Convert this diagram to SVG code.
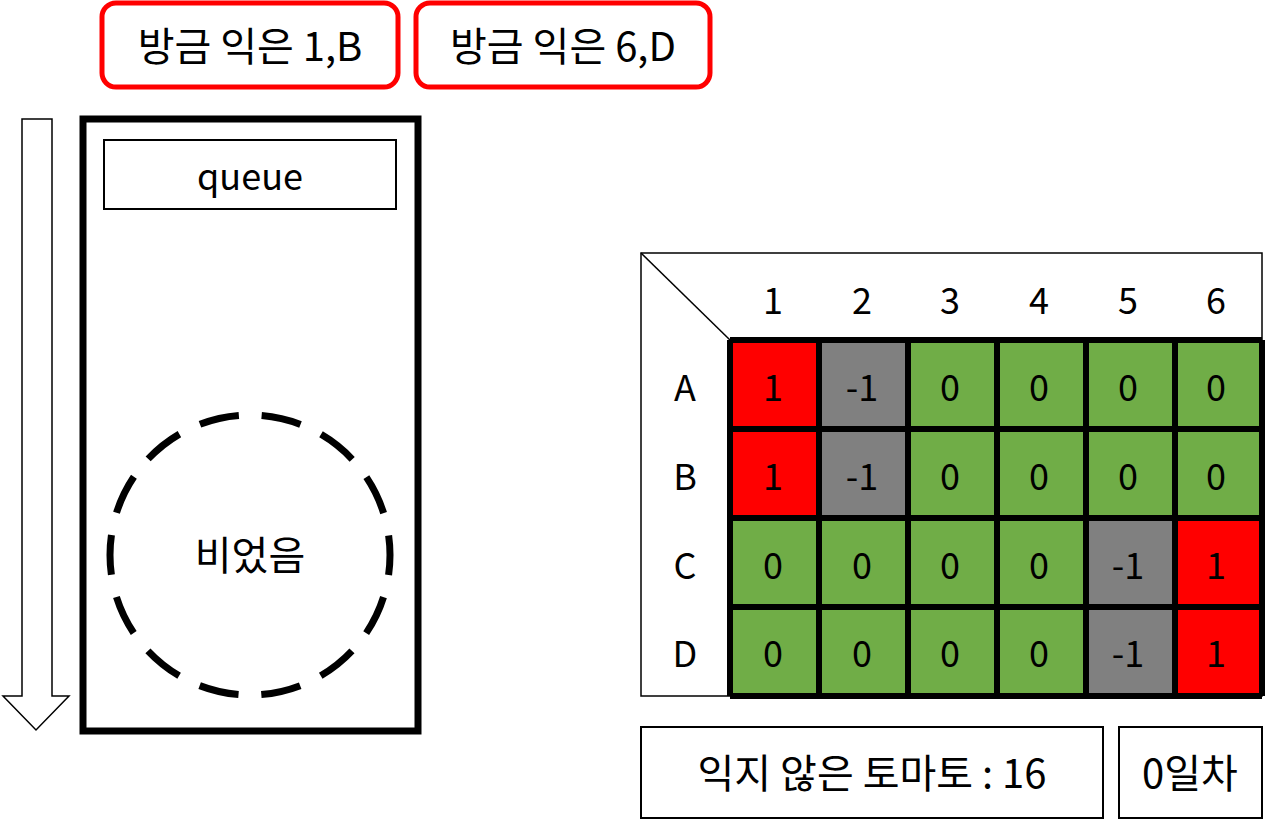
<svg xmlns="http://www.w3.org/2000/svg" width="1268" height="820" viewBox="0 0 1268 820">
<style>
text{font-family:"Noto Sans CJK KR","Noto Sans",sans-serif;font-size:40px;fill:#000;text-anchor:middle;dominant-baseline:central}
.n{font-size:36px}
.tag{fill:#fff;stroke:#f00;stroke-width:5}
.thin{fill:#fff;stroke:#000;stroke-width:2}
.r{fill:#f00}.g{fill:#808080}.gr{fill:#70AD47}
.grid{stroke:#000;stroke-width:6;fill:none}
</style>
<rect width="1268" height="820" fill="#fff"/>
<g id="tag1"><rect class="tag" x="102" y="3" width="296" height="84" rx="14"/><text x="250" y="44">방금 익은 1,B</text></g>
<g id="tag2"><rect class="tag" x="416" y="3" width="294" height="84" rx="14"/><text x="563" y="44">방금 익은 6,D</text></g>
<g id="arrow"><path d="M22,119 H52 V696 H69 L36,730 L3,696 H22 Z" fill="#fff" stroke="#000" stroke-width="1.5"/></g>
<g id="queue">
<rect x="83" y="119" width="335" height="612" fill="#fff" stroke="#000" stroke-width="7"/>
<rect class="thin" x="104" y="140" width="292" height="69"/>
<text class="n" x="250" y="174">queue</text>
<circle cx="250" cy="555" r="140" fill="none" stroke="#000" stroke-width="7" stroke-dasharray="40 22.83" stroke-dashoffset="20"/>
<text x="250" y="553">비었음</text>
</g>
<g id="table">
<rect x="641" y="253" width="621" height="443" fill="#fff" stroke="#000" stroke-width="1.5"/>
<line x1="641" y1="253" x2="730" y2="340" stroke="#000" stroke-width="1.5"/>
<g class="hdr">
<text class="n" x="773" y="298">1</text><text class="n" x="862" y="298">2</text><text class="n" x="950" y="298">3</text><text class="n" x="1039" y="298">4</text><text class="n" x="1128" y="298">5</text><text class="n" x="1216" y="298">6</text>
<text class="n" x="685" y="385">A</text><text class="n" x="685" y="474">B</text><text class="n" x="685" y="563">C</text><text class="n" x="685" y="651">D</text>
</g>
<g>
<rect class="r" x="730" y="340" width="89" height="89"/><rect class="g" x="819" y="340" width="89" height="89"/><rect class="gr" x="908" y="340" width="354" height="89"/>
<rect class="r" x="730" y="429" width="89" height="89"/><rect class="g" x="819" y="429" width="89" height="89"/><rect class="gr" x="908" y="429" width="354" height="89"/>
<rect class="gr" x="730" y="518" width="356" height="178"/><rect class="g" x="1086" y="518" width="89" height="178"/><rect class="r" x="1175" y="518" width="87" height="178"/>
</g>
<path class="grid" d="M730,340 H1262 M730,429 H1262 M730,518 H1262 M730,607 H1262 M730,696 H1262 M730,340 V696 M819,340 V696 M908,340 V696 M997,340 V696 M1086,340 V696 M1175,340 V696 M1262,340 V696"/>
<g>
<text class="n" x="773" y="385">1</text><text class="n" x="862" y="385">-1</text><text class="n" x="950" y="385">0</text><text class="n" x="1039" y="385">0</text><text class="n" x="1128" y="385">0</text><text class="n" x="1216" y="385">0</text>
<text class="n" x="773" y="474">1</text><text class="n" x="862" y="474">-1</text><text class="n" x="950" y="474">0</text><text class="n" x="1039" y="474">0</text><text class="n" x="1128" y="474">0</text><text class="n" x="1216" y="474">0</text>
<text class="n" x="773" y="563">0</text><text class="n" x="862" y="563">0</text><text class="n" x="950" y="563">0</text><text class="n" x="1039" y="563">0</text><text class="n" x="1128" y="563">-1</text><text class="n" x="1216" y="563">1</text>
<text class="n" x="773" y="651">0</text><text class="n" x="862" y="651">0</text><text class="n" x="950" y="651">0</text><text class="n" x="1039" y="651">0</text><text class="n" x="1128" y="651">-1</text><text class="n" x="1216" y="651">1</text>
</g>
</g>
<g id="count"><rect class="thin" x="641" y="727" width="462" height="91"/><text x="872" y="771">익지 않은 토마토 : 16</text></g>
<g id="day"><rect class="thin" x="1119" y="727" width="143" height="91"/><text x="1190" y="771">0일차</text></g>
</svg>
